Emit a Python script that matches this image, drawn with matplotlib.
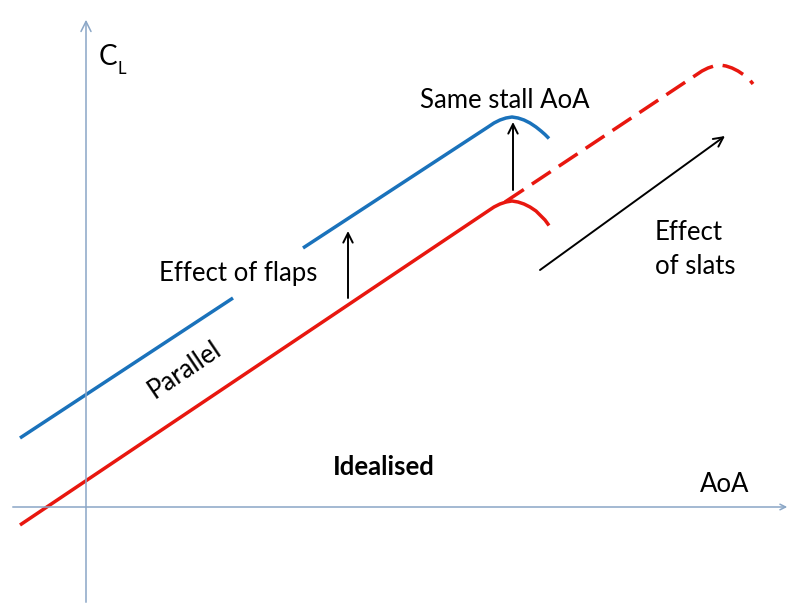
import numpy as np
import matplotlib.pyplot as plt

# lift curves, AoA in deg and CL
red_x = [-2.64, 16.08, 16.32, 16.56, 16.80, 17.04, 17.28, 17.52, 17.76, 18.00, 18.20, 18.36, 18.52]
red_y = [-0.072, 1.184, 1.200, 1.212, 1.220, 1.224, 1.220, 1.212, 1.200, 1.184, 1.164, 1.148, 1.126]

blue_a_x = [-2.64, 5.88]
blue_a_y = [0.276, 0.836]
blue_b_x = [8.68, 16.08, 16.32, 16.56, 16.80, 17.04, 17.28, 17.52, 17.76, 18.00, 18.20, 18.36, 18.52]
blue_b_y = [1.036, 1.520, 1.536, 1.548, 1.556, 1.560, 1.556, 1.548, 1.536, 1.520, 1.504, 1.490, 1.474]

slat_x = [16.76, 24.40, 24.64, 24.88, 25.12, 25.36, 25.60, 25.84, 26.08, 26.32, 26.52, 26.68]
slat_y = [1.220, 1.728, 1.744, 1.756, 1.764, 1.768, 1.764, 1.756, 1.744, 1.728, 1.712, 1.692]

# arrows (x0, y0, x1, y1)
flap_arrows = [(10.48, 0.836, 10.48, 1.104), (17.08, 1.268, 17.08, 1.540)]
slat_arrow = (18.16, 0.948, 25.56, 1.484)

RED = '#e8170f'
BLUE = '#1a72bb'
AXC = '#8aa6c6'
FONT = 'Lato'

fig = plt.figure(figsize=(7.93, 6.05), dpi=100)
ax = fig.add_axes([0, 0, 1, 1])
ax.set_xlim(-3.44, 28.28)
ax.set_ylim(-0.392, 2.028)
ax.axis('off')

# axes of the sketch
ax.annotate('', xy=(28.16, 0), xytext=(-3.04, 0),
            arrowprops=dict(arrowstyle='->', color=AXC, lw=1.1))
ax.annotate('', xy=(0, 1.96), xytext=(0, -0.392),
            arrowprops=dict(arrowstyle='->', color=AXC, lw=1.1, mutation_scale=18))

ax.plot(red_x, red_y, color=RED, lw=2.5, solid_capstyle='butt', solid_joinstyle='round')
ax.plot(blue_a_x, blue_a_y, color=BLUE, lw=2.5, solid_capstyle='butt')
ax.plot(blue_b_x, blue_b_y, color=BLUE, lw=2.5, solid_capstyle='butt', solid_joinstyle='round')
ax.plot(slat_x, slat_y, color=RED, lw=2.5, dashes=(6.5, 2.8), dash_joinstyle='round')

for x0, y0, x1, y1 in flap_arrows + [slat_arrow]:
    ax.annotate('', xy=(x1, y1), xytext=(x0, y0),
                arrowprops=dict(arrowstyle='->', color='black', lw=1.4,
                                mutation_scale=17, shrinkA=0, shrinkB=0))

fs = 18.5
ax.text(0.52, 1.80, 'C', fontsize=20, family=FONT, va='center', ha='left')
ax.text(1.26, 1.752, 'L', fontsize=12, family=FONT, va='center', ha='left')
ax.text(16.76, 1.628, 'Same stall AoA', fontsize=fs, family=FONT, ha='center', va='center')
ax.text(6.08, 0.936, 'Effect of flaps', fontsize=fs, family=FONT, ha='center', va='center')
ax.text(22.76, 1.032, 'Effect\nof slats', fontsize=fs, family=FONT, ha='left', va='center',
        linespacing=1.45)
ax.text(3.96, 0.548, 'Parallel', fontsize=fs, family=FONT, ha='center', va='center',
        rotation=34)
ax.text(11.92, 0.16, 'Idealised', fontsize=fs, family=FONT, weight='bold',
        ha='center', va='center')
ax.text(25.56, 0.088, 'AoA', fontsize=fs, family=FONT, ha='center', va='center')

plt.savefig('out.png', dpi=100)
